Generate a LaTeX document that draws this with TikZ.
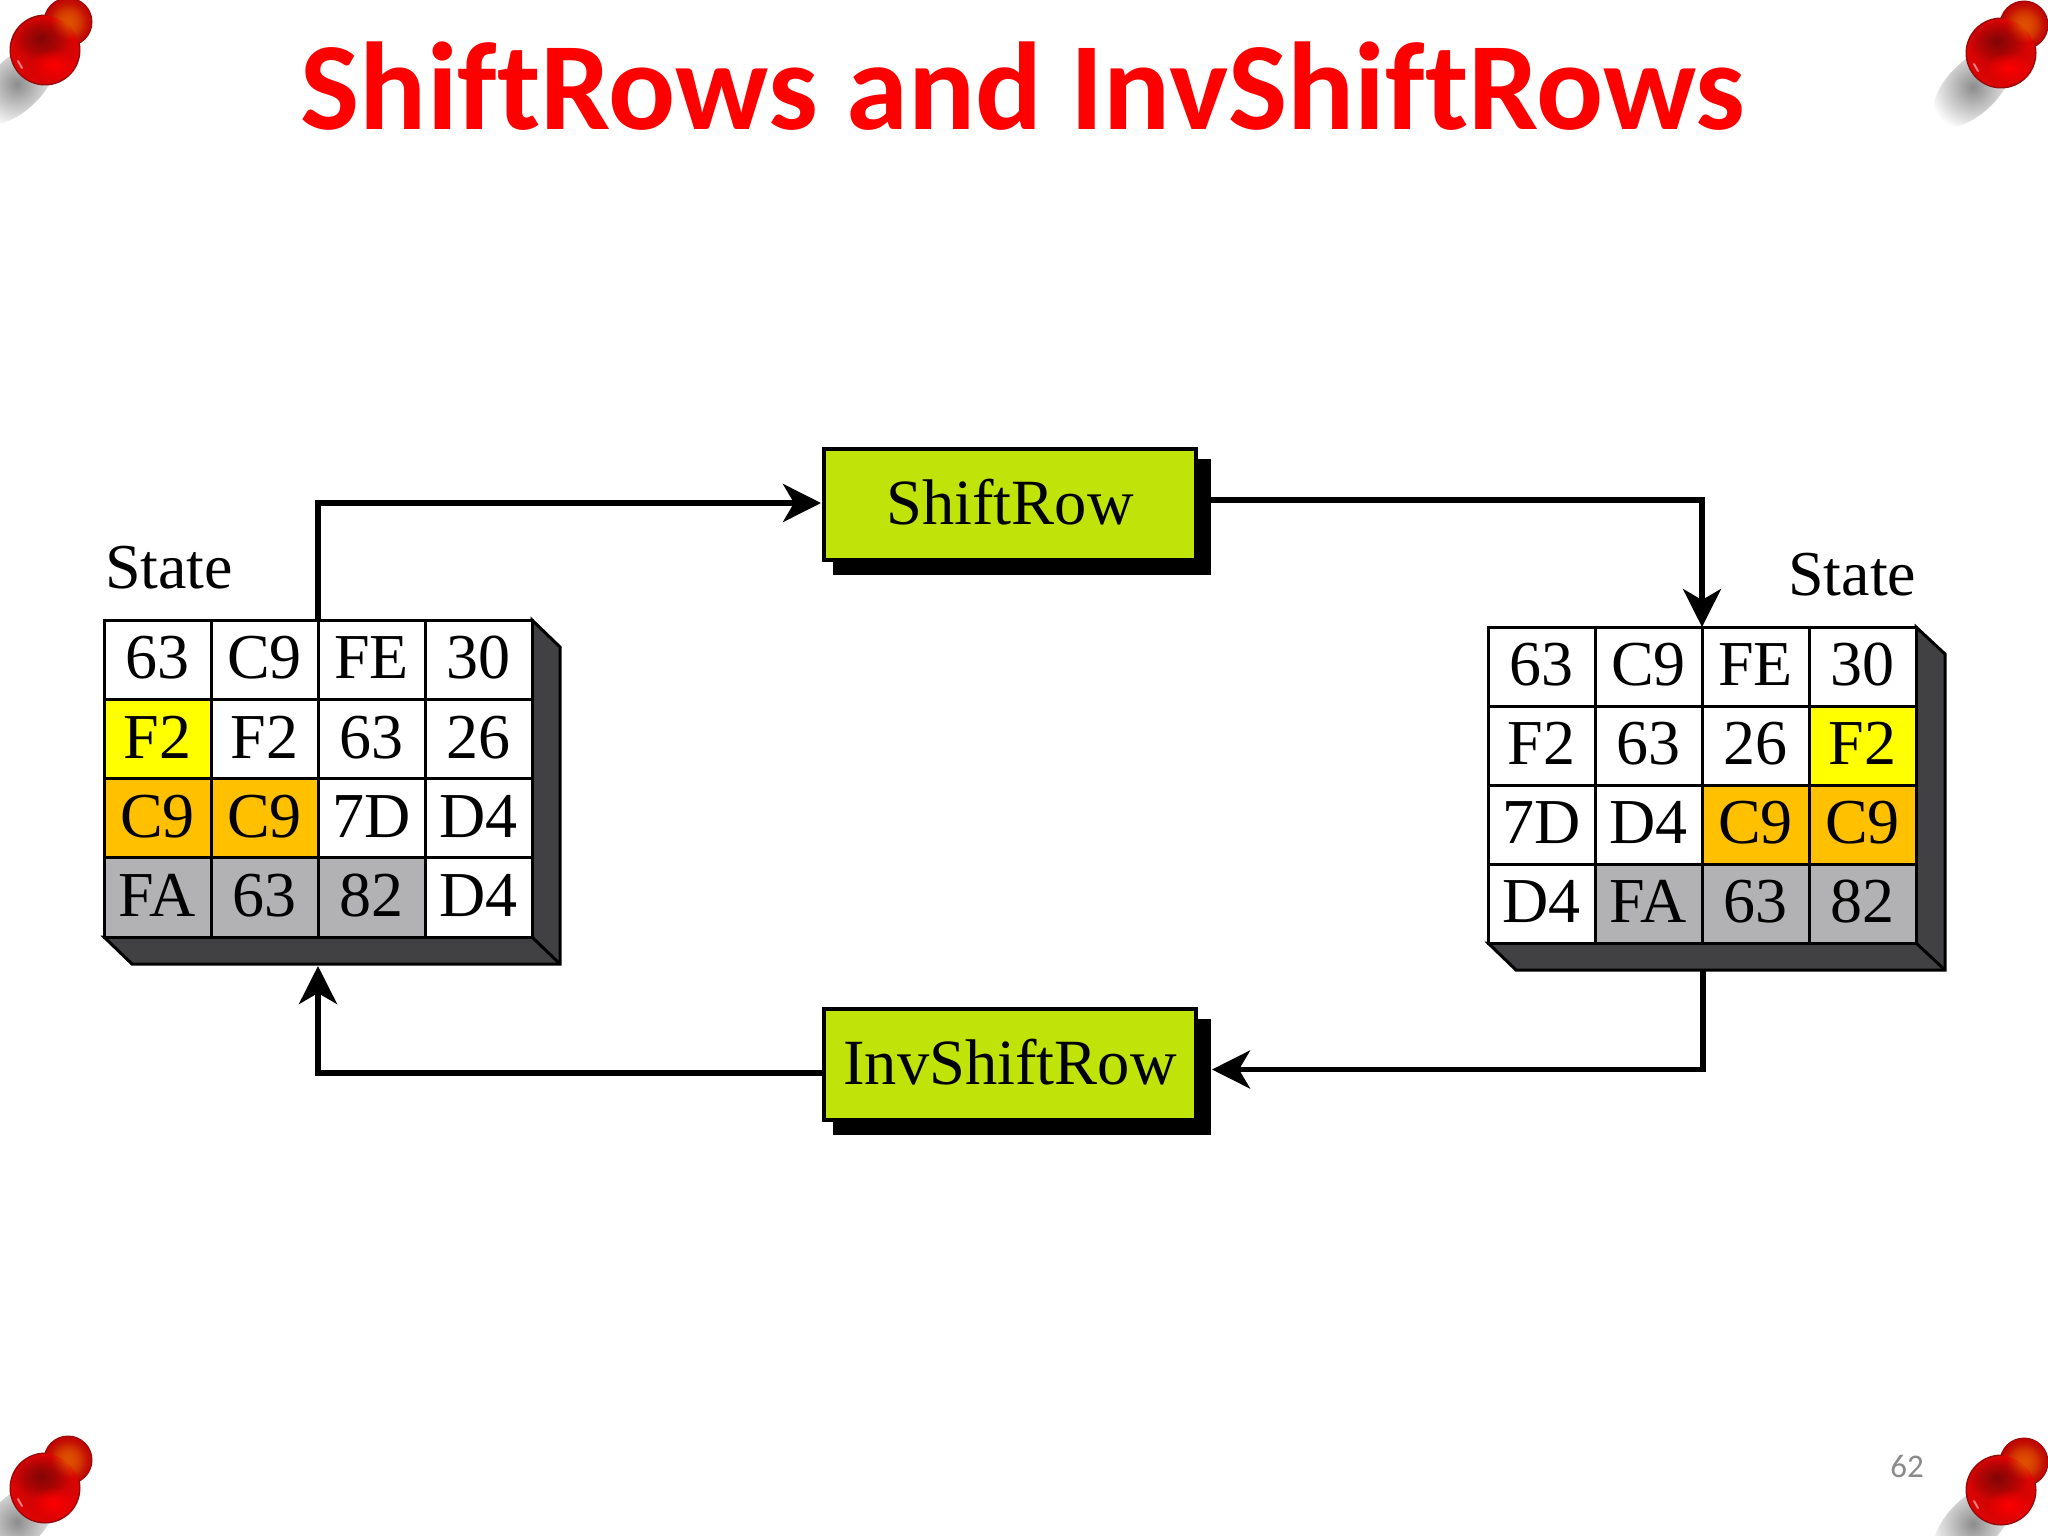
\documentclass[tikz,border=0pt]{standalone}
\usepackage{fontspec}
\setmainfont{Liberation Serif}
\newfontfamily\titlefont[Ligatures=CommonOff]{Carlito}
\usetikzlibrary{arrows.meta,fadings}
\definecolor{lime}{RGB}{192,228,10}
\definecolor{cyel}{RGB}{255,255,0}
\definecolor{corg}{RGB}{255,192,0}
\definecolor{cgry}{RGB}{178,177,179}
\definecolor{cdark}{RGB}{65,64,66}
\definecolor{pinred}{RGB}{222,4,4}
\definecolor{pinmid}{RGB}{190,4,4}
\definecolor{pindark}{RGB}{130,6,6}
\definecolor{pinrim}{RGB}{150,10,10}
\definecolor{pinorange}{RGB}{222,80,0}
\tikzfading[name=softspot,inner color=transparent!0,outer color=transparent!100]
\tikzset{
  cellbox/.style={draw=black,line width=3pt,minimum width=107pt,minimum height=79.3pt,inner sep=0pt,outer sep=0pt,text depth=4pt,font=\fontsize{64}{70}\selectfont},
  depthbox/.style={draw=black,fill=cdark,line width=3pt,line join=miter},
  opbox/.style={draw=black,fill=lime,line width=4pt,minimum width=372pt,minimum height=111pt,inner sep=0pt,outer sep=0pt,text depth=5pt,font=\fontsize{64.5}{70}\selectfont},
  opshadow/.style={fill=black,minimum width=378pt,minimum height=116pt,inner sep=0pt,outer sep=0pt},
  statelabel/.style={anchor=base west,inner sep=0pt,font=\fontsize{64}{70}\selectfont},
  conn/.style={draw=black,line width=5.4pt,line join=miter},
  arrowed/.style={conn,-{Stealth[length=38pt,width=38pt,inset=11pt]}},
  softspot/.style={path fading=softspot}
}
\newcommand{\pushpin}[2]{% x, y
  \begin{scope}[shift={(#1,#2)}]
    \shade[shift={(-28,34)},rotate=45,inner color=black!45,outer color=white] (0,0) ellipse (50 and 26);
    \fill[pinrim] (23,-28) circle (24.5);
    \fill[pinrim] (0,0) circle (35.5);
    \shade[inner color=pinorange,outer color=pinmid] (23,-28) circle (23.5);
    \shade[inner color=pinmid,outer color=pinred] (0,0) circle (34);
    \fill[pinorange,softspot] (23,-28) circle (18);
    \fill[pindark,softspot] (-4,-12) ellipse (30 and 22);
    \fill[red,softspot] (8,15) ellipse (24 and 16);
    \draw[red!30!white,line width=2pt,line cap=round,opacity=.7] (-27,11) -- (-23,18);
  \end{scope}}
\newcommand{\stategrid}[5]{% prefix, x0, y0, cell h, list
  \foreach \rr/\cc/\tt/\ff in {#5} {
    \node[cellbox,fill=\ff,anchor=north west] (#1\rr\cc) at ({#2+(\cc-1)*107},{#3+(\rr-1)*#4}) {\tt};
  }}
\begin{document}
\begin{tikzpicture}[x=1pt,y=-1pt]
\useasboundingbox (0,0) rectangle (2048,1536);
\clip (0,0) rectangle (2048,1536);
\fill[white] (0,0) rectangle (2048,1536);

\pushpin{45}{50}
\pushpin{2001}{53}
\pushpin{45}{1488}
\pushpin{2001}{1490}

\node[anchor=base,inner sep=0pt,text=red,font=\titlefont\bfseries\fontsize{125}{130}\selectfont] (title) at (1023,130) {ShiftRows and InvShiftRows};
\node[anchor=base,inner sep=0pt,text=black!46,font=\titlefont\fontsize{33}{36}\selectfont] (pagenum) at (1907,1477) {62};

% left state
\draw[depthbox] (104,937) -- (132,964) -- (560,964) -- (560,647) -- (532,620) -- (532,937) -- cycle;
\draw[depthbox] (532,937) -- (560,964);
\stategrid{l}{104}{620}{79.3}{1/1/63/white,1/2/C9/white,1/3/FE/white,1/4/30/white,
  2/1/F2/cyel,2/2/F2/white,2/3/63/white,2/4/26/white,
  3/1/C9/corg,3/2/C9/corg,3/3/7D/white,3/4/D4/white,
  4/1/FA/cgry,4/2/63/cgry,4/3/82/cgry,4/4/D4/white}
\node[statelabel] (lstate) at (105,588) {State};

% right state
\draw[depthbox] (1488,943) -- (1516,970) -- (1945,970) -- (1945,654) -- (1916,627) -- (1916,943) -- cycle;
\draw[depthbox] (1916,943) -- (1945,970);
\stategrid{r}{1488}{627}{79}{1/1/63/white,1/2/C9/white,1/3/FE/white,1/4/30/white,
  2/1/F2/white,2/2/63/white,2/3/26/white,2/4/F2/cyel,
  3/1/7D/white,3/2/D4/white,3/3/C9/corg,3/4/C9/corg,
  4/1/D4/white,4/2/FA/cgry,4/3/63/cgry,4/4/82/cgry}
\node[statelabel] (rstate) at (1788,595) {State};

% operation boxes
\node[opshadow,anchor=south east] (shiftshadow) at (1211,575) {};
\node[opbox,anchor=north west] (shiftrow) at (824,449) {ShiftRow};
\node[opshadow,anchor=south east] (invshadow) at (1211,1135) {};
\node[opbox,anchor=north west] (invshiftrow) at (824,1009) {InvShiftRow};

% connectors
\coordinate (shiftin) at (821,503);
\coordinate (shiftout) at (1211,500);
\coordinate (rbottom) at (1703,970);
\coordinate (invin) at (1212,1069.5);
\coordinate (invout) at (822,1073);
\coordinate (lbottom) at (318,966);
\draw[arrowed] (l12.north east) |- (shiftin);
\draw[arrowed] (shiftout) -| (r13.north west);
\draw[arrowed] (rbottom) |- (invin);
\draw[arrowed] (invout) -| (lbottom);
\end{tikzpicture}
\end{document}
